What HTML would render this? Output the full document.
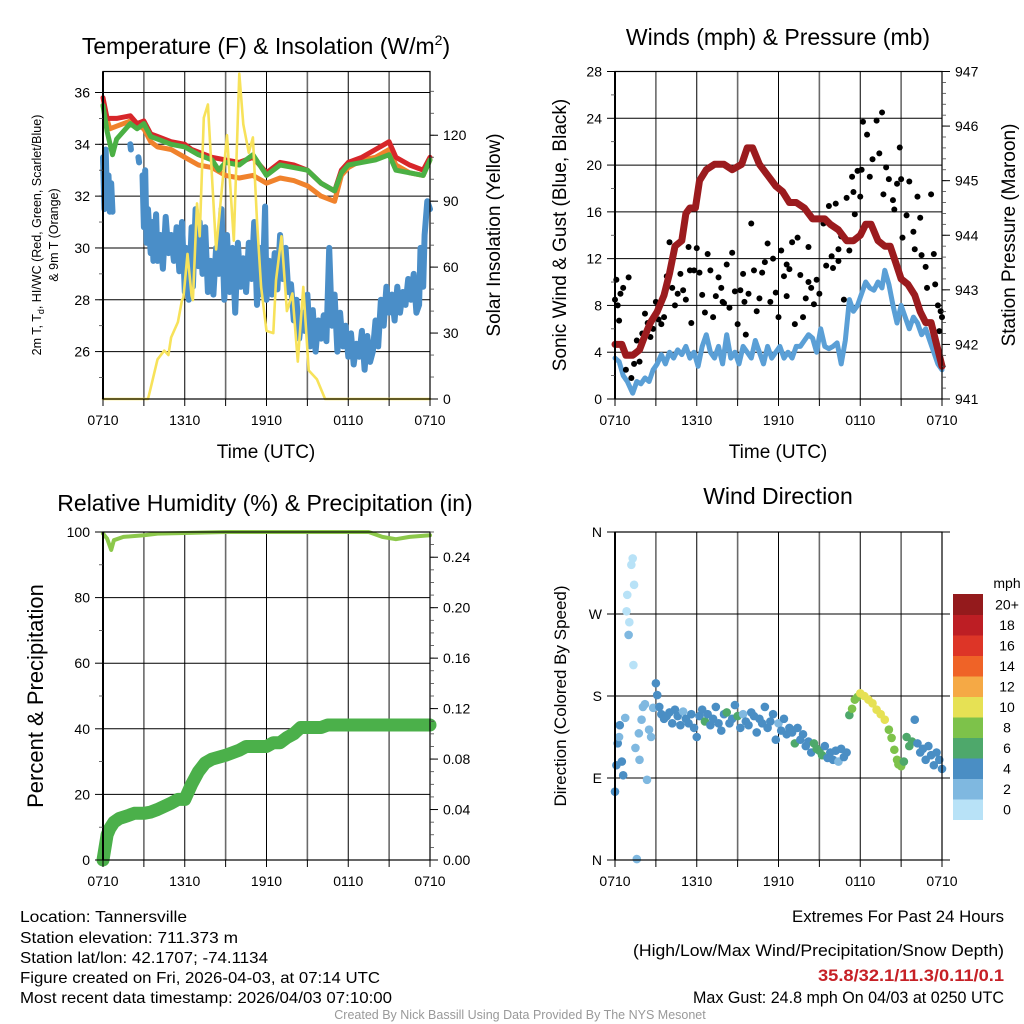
<!DOCTYPE html>
<html><head><meta charset="utf-8">
<style>
html,body{margin:0;padding:0;background:#fff;}
svg{display:block;font-family:"Liberation Sans",sans-serif;}
.narrow{font-family:"Liberation Sans Narrow","Liberation Sans",sans-serif;}
</style></head>
<body>
<svg id="chart" xmlns="http://www.w3.org/2000/svg" width="1024" height="1024" viewBox="0 0 1024 1024">
<rect x="0" y="0" width="1024" height="1024" fill="#fff"/>
<g id="layer-grid"></g>
<g id="layer-data"></g>
<g id="layer-axes"></g>

<text x="266" y="54" font-size="23" text-anchor="middle">Temperature (F) &amp; Insolation (W/m<tspan dy="-9" font-size="14">2</tspan><tspan dy="9">)</tspan></text>
<text x="778" y="45" font-size="23" text-anchor="middle">Winds (mph) &amp; Pressure (mb)</text>
<text x="265" y="511" font-size="23" text-anchor="middle">Relative Humidity (%) &amp; Precipitation (in)</text>
<text x="778" y="504" font-size="23" text-anchor="middle">Wind Direction</text>

<text transform="translate(41,235) rotate(-90)" font-size="12.5" text-anchor="middle">2m T, T<tspan font-size="9" dy="3">d</tspan><tspan dy="-3">, HI/WC (Red, Green, Scarlet/Blue)</tspan></text>
<text transform="translate(58,235) rotate(-90)" font-size="12.5" text-anchor="middle">&amp; 9m T (Orange)</text>
<text transform="translate(500,235) rotate(-90)" font-size="19" text-anchor="middle">Solar Insolation (Yellow)</text>
<text x="266" y="458" font-size="19" text-anchor="middle">Time (UTC)</text>
<text transform="translate(566,235) rotate(-90)" font-size="19" text-anchor="middle">Sonic Wind &amp; Gust (Blue, Black)</text>
<text transform="translate(1015,235) rotate(-90)" font-size="19" text-anchor="middle">Station Pressure (Maroon)</text>
<text x="778" y="458" font-size="19" text-anchor="middle">Time (UTC)</text>
<text transform="translate(43,696) rotate(-90)" font-size="22" text-anchor="middle">Percent &amp; Precipitation</text>
<text transform="translate(566,696) rotate(-90)" font-size="17" text-anchor="middle">Direction (Colored By Speed)</text>
<text x="1007" y="588" font-size="14" text-anchor="middle">mph</text>

<g class="narrow" font-size="16">
<text x="20" y="922" textLength="167" lengthAdjust="spacingAndGlyphs">Location: Tannersville</text>
<text x="20" y="943" textLength="218" lengthAdjust="spacingAndGlyphs">Station elevation: 711.373 m</text>
<text x="20" y="963" textLength="248" lengthAdjust="spacingAndGlyphs">Station lat/lon: 42.1707; -74.1134</text>
<text x="20" y="983" textLength="360" lengthAdjust="spacingAndGlyphs">Figure created on Fri, 2026-04-03, at 07:14 UTC</text>
<text x="20" y="1003" textLength="372" lengthAdjust="spacingAndGlyphs">Most recent data timestamp: 2026/04/03 07:10:00</text>
</g>
<g class="narrow" font-size="17">
<text x="792" y="922" textLength="212" lengthAdjust="spacingAndGlyphs">Extremes For Past 24 Hours</text>
<text x="633" y="956" textLength="371" lengthAdjust="spacingAndGlyphs">(High/Low/Max Wind/Precipitation/Snow Depth)</text>
<text x="818" y="981" textLength="186" lengthAdjust="spacingAndGlyphs" fill="#c62026" font-weight="bold">35.8/32.1/11.3/0.11/0.1</text>
<text x="693" y="1003" textLength="311" lengthAdjust="spacingAndGlyphs">Max Gust: 24.8 mph On 04/03 at 0250 UTC</text>
</g>
<text x="520" y="1019" class="narrow" font-size="12.5" fill="#999" text-anchor="middle">Created By Nick Bassill Using Data Provided By The NYS Mesonet</text>
</svg>

<script>
// ---------- DATA ----------
const xTickLabels = ["0710","1310","1910","0110","0710"];
const tempT   = [0,0.3,1,2,2.5,3,3.5,4,5,6,6.5,7,8,9,10,11,12,13,14,15,16,17,17.5,18,19,20,21,21.5,22.5,23.5,24];
const tempRed = [35.8,35.0,35.0,35.1,34.8,34.9,34.4,34.3,34.1,34.0,33.8,33.7,33.5,33.4,33.3,33.5,32.9,33.3,33.2,33.0,32.5,32.2,33.0,33.3,33.5,33.8,34.1,33.5,33.2,33.0,33.5];
const greenT  = [0,0.3,0.7,1,2,2.5,3,3.5,4,5,6,7,8,8.5,9,10,11,12,13,14,15,16,17,17.5,18,19,20,21,21.5,22.5,23.5,24];
const tempGreen=[35.5,34.5,33.6,34.2,34.8,34.6,34.8,34.3,34.2,34.0,33.9,33.6,33.4,33.0,33.3,33.2,33.6,32.8,33.2,33.1,33.0,32.5,32.2,32.9,33.2,33.3,33.4,33.6,33.0,32.9,32.8,33.4];
const orangeT = [0,0.5,1,2,3,3.5,4,5,6,7,8,9,10,11,12,13,14,15,16,17,17.5,18,19,20,21,21.5,22.5,23.5,24];
const tempOrange=[35.5,34.6,34.7,34.9,34.6,34.1,33.9,33.8,33.5,33.2,33.1,32.8,32.7,32.8,32.5,32.7,32.6,32.4,32.0,31.8,32.8,33.1,33.4,33.5,33.8,33.2,32.9,32.8,33.4];
const dewT = [0,0.1,0.2,0.3,0.4,0.5,0.6,0.7,0.75,2.0,2.05,2.1,2.6,2.65,2.7,2.9,3.0,3.1,3.2,3.3,3.5,3.6,3.7,3.9,4.0,4.2,4.4,4.6,4.8,5.0,5.2,5.4,5.6,5.8,6.0,6.1,6.3,6.5,6.6,6.8,7.0,7.1,7.3,7.5,7.7,7.9,8.1,8.3,8.5,8.7,8.9,9.1,9.3,9.5,9.7,9.9,10.1,10.3,10.5,10.7,10.9,11.1,11.3,11.5,11.7,11.9,12.0,12.2,12.4,12.6,12.8,13.0,13.2,13.4,13.6,13.8,14.0,14.2,14.4,14.6,14.8,15.0,15.2,15.4,15.6,15.8,16.0,16.2,16.4,16.6,16.8,17.0,17.2,17.4,17.6,17.8,18.0,18.2,18.4,18.6,18.8,19.0,19.2,19.4,19.6,19.8,20.0,20.2,20.4,20.6,20.8,21.0,21.2,21.4,21.6,21.8,22.0,22.2,22.4,22.6,22.8,23.0,23.2,23.3,23.5,23.6,23.8,24];
const dewV = [33.5,31.5,33.8,31.6,32.8,31.4,32.5,31.4,null,34.0,33.8,null,33.5,33.3,null,32.8,30.8,33.0,30.2,31.5,29.8,31.0,29.5,31.3,29.5,30.5,29.2,31.2,29.8,30.5,29.5,30.8,29.1,31.0,28.3,30.0,28.0,30.8,28.5,31.5,29.3,31.0,29.0,30.8,28.3,29.5,28.2,30.0,29.0,31.5,28.0,30.5,28.3,30.0,27.5,30.2,28.5,29.6,28.3,30.2,28.8,31.0,27.8,30.0,28.2,31.6,28.0,29.5,28.2,29.8,28.4,30.5,28.8,30.0,28.3,28.6,27.2,28.0,26.5,27.5,26.8,28.2,26.2,27.6,26.0,27.2,26.5,27.4,26.4,30.0,27.0,28.2,26.0,27.5,26.2,27.0,25.8,26.7,25.5,26.3,25.8,26.8,25.3,26.6,25.6,26.0,27.2,26.2,28.0,27.0,28.5,27.5,28.2,27.2,28.5,27.5,28.3,27.8,28.8,28.0,29.0,27.5,27.8,30.0,28.5,30.5,31.8,31.5];
const solarT = [0,3.3,3.5,4,4.5,4.8,5,5.5,5.8,5.9,6.2,6.5,6.6,6.9,7.1,7.4,7.7,8.3,9.1,9.6,10.0,10.3,10.7,11.0,11.3,11.6,12.0,12.5,12.7,13.1,13.5,13.9,14.3,14.7,15.1,15.7,16.3,24];
const solarV = [0,0,5,18,22,20,28,35,45,46,66,47,45,89,74,128,134,68,120,72,148,125,112,119,81,51,31,30,54,74,40,48,17,51,13,9,0,0];
const presT = [0,0.5,0.8,1.3,1.8,2.1,2.6,3.1,3.6,4.0,4.4,4.9,5.2,5.5,5.9,6.2,6.7,7.3,8.0,8.6,9.3,9.7,10.1,10.6,11.2,11.8,12.3,12.8,13.3,13.9,14.5,15.0,15.4,15.8,16.4,17.0,17.5,18.0,18.4,18.8,19.3,19.8,20.2,20.6,21.0,21.5,22.0,22.4,22.8,23.2,23.5,23.8,24];
const presV = [942.0,942.0,941.8,941.8,941.9,942.1,942.4,942.6,942.9,943.3,943.8,943.9,944.4,944.5,944.5,945.0,945.2,945.3,945.3,945.2,945.3,945.6,945.6,945.3,945.1,944.9,944.8,944.6,944.6,944.5,944.3,944.3,944.3,944.2,944.1,943.9,943.9,944.0,944.2,944.2,943.9,943.8,943.8,943.5,943.2,943.1,942.9,942.6,942.4,942.4,942.1,941.8,941.6];
const sonicT = [0,0.3,0.6,0.9,1.1,1.3,1.6,1.9,2.2,2.5,2.8,3.1,3.4,3.7,4.0,4.3,4.6,4.9,5.2,5.5,5.8,6.1,6.4,6.7,7.0,7.3,7.6,7.9,8.2,8.5,8.8,9.1,9.4,9.7,10.0,10.3,10.6,10.9,11.2,11.5,11.8,12.1,12.4,12.7,13.0,13.3,13.6,13.9,14.2,14.5,14.8,15.1,15.4,15.7,16.0,16.3,16.6,16.9,17.2,17.5,17.8,18.1,18.4,18.7,19.0,19.3,19.6,19.8,20.1,20.4,20.7,21.0,21.3,21.6,21.9,22.2,22.5,22.8,23.1,23.4,23.7,24];
const sonicV = [3.5,3.2,2.0,1.5,1.0,0.5,1.5,1.3,1.8,1.5,2.5,3.0,3.8,3.0,4.0,3.5,4.2,3.8,4.5,3.5,4.0,2.8,4.5,5.5,4.0,3.5,4.5,3.0,5.5,3.5,4.0,3.0,4.5,4.0,3.5,5.0,4.0,3.0,4.5,3.5,4.0,4.5,3.5,4.0,3.5,4.5,4.5,5.0,5.5,5.2,4.0,6.0,4.5,4.3,4.5,4.8,3.0,5.0,8.5,7.5,8.0,9.0,10.0,9.5,9.3,10.0,9.5,11.0,9.8,8.0,6.5,8.0,7.0,6.0,7.0,6.5,5.5,6.0,5.0,4.0,3.0,2.5];
const gustT = [0,0.1,0.2,0.3,0.4,0.6,0.8,1.0,1.2,1.4,1.6,1.8,2.0,2.2,2.4,2.6,2.8,3.0,3.2,3.4,3.6,3.8,4.0,4.2,4.4,4.6,4.8,5.0,5.2,5.4,5.6,5.8,6.0,6.2,6.4,6.6,6.8,7.0,7.2,7.4,7.6,7.8,8.0,8.2,8.4,8.6,8.8,9.0,9.2,9.4,9.6,9.8,10.0,10.2,10.4,10.6,10.8,11.0,11.2,11.4,11.6,11.8,12.0,12.2,12.4,12.6,12.8,13.0,13.2,13.4,13.6,13.8,14.0,14.2,14.4,14.6,14.8,15.0,15.3,15.5,15.7,15.9,16.0,16.2,16.4,16.6,16.8,17.0,17.2,17.4,17.5,17.6,17.8,18.0,18.1,18.2,18.5,18.7,18.9,19.2,19.4,19.6,19.7,19.9,20.1,20.4,20.5,20.7,20.9,21.0,21.1,21.4,21.6,21.9,22.0,22.2,22.4,22.5,22.8,22.9,23.2,23.4,23.5,23.7,23.8,23.9,24.0,5.5,7.9,9.5,12.6,16.4,14.2];
const gustV = [8.5,10.2,8.0,6.7,9.0,9.5,2.5,10.4,1.8,3.0,5.0,3.2,5.6,7.3,6.5,5.3,6.0,8.3,6.8,6.4,7.0,10.5,13.4,9.5,8.0,9.0,10.7,9.3,8.5,13.0,6.5,11.0,12.9,10.8,8.9,7.4,12.4,11.0,7.0,8.8,10.4,9.5,8.2,11.5,7.8,12.5,9.2,6.4,9.3,10.7,5.5,9.0,15.0,11.0,7.5,8.6,10.8,11.7,13.3,8.3,12.0,9.1,7.0,12.7,10.5,8.8,11.1,13.4,6.4,13.8,10.6,7.0,8.6,13.0,9.5,8.1,10.2,9.0,15.0,11.4,16.5,12.2,11.2,16.7,11.8,13.9,8.5,17.2,12.7,19.0,17.7,15.8,19.5,17.3,19.6,23.7,22.6,19.0,20.5,23.8,21.0,24.5,17.5,19.8,18.8,17.0,16.2,18.4,21.5,18.8,13.8,15.7,18.6,14.3,12.8,17.3,15.5,12.3,11.3,9.5,17.5,12.4,9.8,8.0,5.8,7.5,7.0,11.0,8.3,8.3,11.5,12.8,10.0];
const rhT = [0,0.3,0.6,0.8,1.5,3,4,6,9,19,19.5,20.5,21.5,22.5,24];
const rhV = [99.5,98,94.5,97.5,98.5,99,99.5,99.7,100,100,100,98.5,97.8,98.5,99];
const precipT = [0,0.3,0.5,0.8,1.2,1.8,2.3,3,3.5,4,5,5.5,6,6.5,7,7.5,8,9,10,10.5,11,12,12.5,13,13.5,14,14.5,16,16.5,24];
const precipV = [0.0,0.02,0.025,0.03,0.033,0.035,0.037,0.037,0.038,0.04,0.045,0.048,0.048,0.06,0.07,0.077,0.08,0.083,0.087,0.09,0.09,0.09,0.093,0.093,0.097,0.1,0.105,0.105,0.107,0.107];
const dirT = [0,0.1,0.2,0.35,0.3,0.5,0.6,0.75,0.85,0.9,1.05,1.0,1.2,1.3,1.4,1.35,1.6,1.5,1.8,1.75,1.95,2.05,2.2,2.35,2.5,2.65,2.8,3.0,3.1,3.25,3.4,3.6,3.8,4.0,4.2,4.4,4.6,4.8,5.0,5.2,5.4,5.6,5.8,6.0,6.2,6.4,6.6,6.8,7.0,7.2,7.4,7.6,7.8,8.0,8.2,8.4,8.6,8.8,9.0,9.2,9.4,9.6,9.8,10.0,10.2,10.4,10.6,10.8,11.0,11.2,11.4,11.6,11.8,12.0,12.2,12.4,12.6,12.8,13.0,13.2,13.4,13.6,13.8,14.0,14.2,14.4,14.6,14.8,15.0,15.2,15.4,15.6,15.8,16.0,16.2,16.4,16.6,16.8,17.0,17.2,17.4,17.6,17.8,18.0,18.3,18.6,18.9,19.2,19.5,19.8,20.1,20.3,20.5,20.7,20.8,21.0,21.2,21.4,21.6,21.8,22.0,22.2,22.4,22.6,22.8,23.0,23.2,23.4,23.6,23.8,24.0];
const dirV = [75,104,128,148,135,108,93,156,273,291,261,247,324,331,302,214,1,123,110,139,154,168,171,88,143,135,167,194,181,168,160,155,158,162,150,165,158,148,163,155,150,160,145,135,158,165,152,160,148,155,168,150,142,160,162,150,155,170,158,145,160,152,148,162,158,140,155,150,168,145,152,160,132,150,142,155,138,145,140,128,145,132,138,125,130,118,128,122,120,115,125,112,118,110,120,108,122,113,118,159,166,176,179,183,180,176,172,165,160,154,143,134,121,110,105,103,108,135,125,130,154,128,118,122,110,125,115,104,118,110,100,90,122];
const dirS = [3,3,4,3,2,4,4,1,0,0,0,2,0,0,0,0,1,2,2,2,1,1,1,2,2,2,2,4,4,4,4,4,3,4,4,4,4,4,2,4,4,3,4,4,4,4,6,4,4,3,4,4,4,4,6,4,4,4,6,4,2,4,4,4,4,4,4,4,4,4,4,4,4,2,4,4,4,4,4,6,4,4,4,4,4,4,6,6,6,6,4,4,4,4,4,2,4,4,4,6,8,8,8,9,10,10,10,10,10,10,8,7,7,8,8,8,6,6,6,6,4,4,4,4,4,3,4,4,4,4,3,2,4];
const cbLabels = ["0","2","4","6","8","10","12","14","16","18","20+"];
const cbColors = ["#b8e2f7","#7fb8e0","#4a8ec4","#4ea86b","#7dc24a","#e6e154","#f5a945","#ef6327","#dd3527","#bd1e24","#941a1c"];

// ---------- DRAWING ----------
const NS = "http://www.w3.org/2000/svg";
const gGrid = document.getElementById('layer-grid');
const gData = document.getElementById('layer-data');
const gAxes = document.getElementById('layer-axes');
function el(tag, parent, name){
  const e = document.createElementNS(NS, tag);
  
  
  parent.appendChild(e);
  return e;
}
function setA(e, o){ for (const k in o) e.setAttribute(k, o[k]); return e; }

function makePanel(x0, x1, yTop, yBot){
  return { x0, x1, yTop, yBot,
    x: t => x0 + t/24*(x1-x0),
    lin: (lo, hi) => v => yBot - (v-lo)/(hi-lo)*(yBot-yTop) };
}
const P1 = makePanel(103, 430, 71.5, 399);
const P2 = makePanel(615, 942, 71.5, 399);
const P3 = makePanel(103, 430, 532, 860);
const P4 = makePanel(615, 942, 532, 860);

const yTemp = P1.lin(24.17, 36.81), ySolar = P1.lin(0, 149);
const yWind = P2.lin(0, 28), yPres = P2.lin(941, 947);
const yRH = P3.lin(0, 100), yPre = P3.lin(0, 0.26);
const yDir = P4.lin(0, 360);

function frame(P, prefix){
  for (let h = 3; h < 24; h += 3){
    const l = el('line', gGrid, prefix + '-vgrid');
    const odd = (h % 6) !== 0;
    setA(l, {x1:P.x(h), x2:P.x(h), y1:P.yTop, y2:P.yBot, stroke: odd ? '#6a6a6a' : '#000', 'stroke-width': odd ? 1.6 : 1});
  }
  for (let h = 0; h <= 24; h += 3){
    const tk = el('line', gAxes, prefix + '-x-tick');
    setA(tk, {x1:P.x(h), x2:P.x(h), y1:P.yBot, y2:P.yBot+7, stroke:'#000', 'stroke-width':1});
  }
  xTickLabels.forEach((s, i) => {
    const t = el('text', gAxes, prefix + '-x-tick-label');
    setA(t, {x:P.x(i*6), y:P.yBot+26, 'font-size':14, 'text-anchor':'middle'});
    t.textContent = s;
  });
  const b = el('rect', gAxes, prefix + '-plot-frame');
  setA(b, {x:P.x0, y:P.yTop, width:P.x1-P.x0, height:P.yBot-P.yTop, fill:'none', stroke:'#000', 'stroke-width':1.2});
  const lft = el('line', gAxes, prefix + '-left-axis');
  setA(lft, {x1:P.x0, x2:P.x0, y1:P.yTop, y2:P.yBot, stroke:'#000', 'stroke-width':2});
}
function yAxis(P, scale, majors, minors, fmt, side, prefix, grid, fs){
  const isL = side === 'left';
  const xa = isL ? P.x0 : P.x1;
  const dir = isL ? -1 : 1;
  minors.forEach(v => {
    const l = el('line', gAxes, prefix + '-minor-tick');
    setA(l, {x1:xa, x2:xa+dir*4, y1:scale(v), y2:scale(v), stroke:'#444', 'stroke-width':0.8});
  });
  majors.forEach(v => {
    const y = scale(v);
    const l = el('line', gAxes, prefix + '-major-tick');
    setA(l, {x1:xa, x2:xa+dir*8, y1:y, y2:y, stroke:'#000', 'stroke-width':1});
    if (grid){
      const g = el('line', gGrid, prefix + '-hgrid');
      setA(g, {x1:P.x0, x2:P.x1, y1:y, y2:y, stroke:'#000', 'stroke-width':1});
    }
    const t = el('text', gAxes, prefix + '-tick-label');
    setA(t, {x: xa + dir*13, y: y+5, 'font-size': fs||14, 'text-anchor': isL ? 'end' : 'start'});
    t.textContent = fmt(v);
  });
}
function range(a, b, s){ const r=[]; for (let v=a; v<=b+1e-9; v+=s) r.push(+v.toFixed(4)); return r; }

frame(P1,'temp'); frame(P2,'wind'); frame(P3,'rh'); frame(P4,'dir');
yAxis(P1, yTemp, range(26,36,2), range(25,36,1), v=>v, 'left','temp-left',true);
yAxis(P1, ySolar, range(0,120,30), range(10,140,10), v=>v, 'right','solar-right',false);
yAxis(P2, yWind, range(0,28,4), range(2,26,4), v=>v, 'left','wind-left',true);
yAxis(P2, yPres, range(941,947,1), range(941.2,946.8,0.2), v=>v, 'right','pres-right',false);
yAxis(P3, yRH, range(0,100,20), range(10,90,20), v=>v, 'left','rh-left',true);
yAxis(P3, yPre, range(0,0.24,0.04), range(0.01,0.26,0.01), v=>v.toFixed(2), 'right','precip-right',false);
const dirLabels = {0:'N',90:'E',180:'S',270:'W',360:'N'};
yAxis(P4, yDir, [0,90,180,270,360], [], v=>dirLabels[v], 'left','dir-left',true);
[0,90,180,270,360].forEach(v=>{
  const l = el('line', gAxes, 'dir-right-tick');
  setA(l, {x1:P4.x1, x2:P4.x1+8, y1:yDir(v), y2:yDir(v), stroke:'#000', 'stroke-width':1});
});

function pathFrom(T, V, P, scale){
  let d = '', pen = false;
  for (let i = 0; i < T.length; i++){
    if (V[i] === null){ pen = false; continue; }
    d += (pen ? 'L' : 'M') + P.x(T[i]).toFixed(1) + ',' + scale(V[i]).toFixed(1);
    pen = true;
  }
  return d;
}
function line(T, V, P, scale, color, w, name){
  const p = el('path', gData, name);
  setA(p, {d:pathFrom(T,V,P,scale), fill:'none', stroke:color, 'stroke-width':w, 'stroke-linejoin':'round', 'stroke-linecap':'round'});
  return p;
}
line(dewT, dewV, P1, yTemp, '#4a8ec8', 6, 'dewpoint-line');
line(orangeT, tempOrange, P1, yTemp, '#f0822c', 5, 'temp-9m-line');
line(tempT, tempRed, P1, yTemp, '#d7262a', 5, 'temp-2m-line');
line(greenT, tempGreen, P1, yTemp, '#4bb044', 5, 'heat-index-line');
line(solarT, solarV, P1, ySolar, '#f7e25a', 2.6, 'solar-insolation-line');
line(sonicT, sonicV, P2, yWind, '#5a9fd6', 5, 'sonic-wind-line');
gustT.forEach((t,i)=>{
  const c = el('circle', gData, 'gust-point');
  setA(c, {cx:P2.x(t), cy:yWind(gustV[i]), r:3, fill:'#000'});
});
line(presT, presV, P2, yPres, '#9b1b1e', 7, 'pressure-line');
line(rhT, rhV, P3, yRH, '#8cc84b', 4, 'relative-humidity-line');
line(precipT, precipV, P3, yPre, '#4bb04a', 13, 'precipitation-line');
dirT.forEach((t,i)=>{
  const c = el('circle', gData, 'wind-direction-point');
  const k = Math.max(0, Math.min(10, Math.round(dirS[i]/2)));
  setA(c, {cx:P4.x(t), cy:yDir(dirV[i]), r:4.3, fill:cbColors[k]});
});
const cbTop = 594, cbH = 20.5;
cbLabels.forEach((s,i)=>{
  const y = cbTop + (10-i)*cbH;
  const r = el('rect', gAxes, 'colorbar-swatch');
  setA(r, {x:953, y:y, width:30, height:cbH+0.5, fill:cbColors[i]});
  const t = el('text', gAxes, 'colorbar-label');
  setA(t, {x:1007, y:y+cbH/2+5, 'font-size':14, 'text-anchor':'middle'});
  t.textContent = s;
});
</script>
</body></html>
